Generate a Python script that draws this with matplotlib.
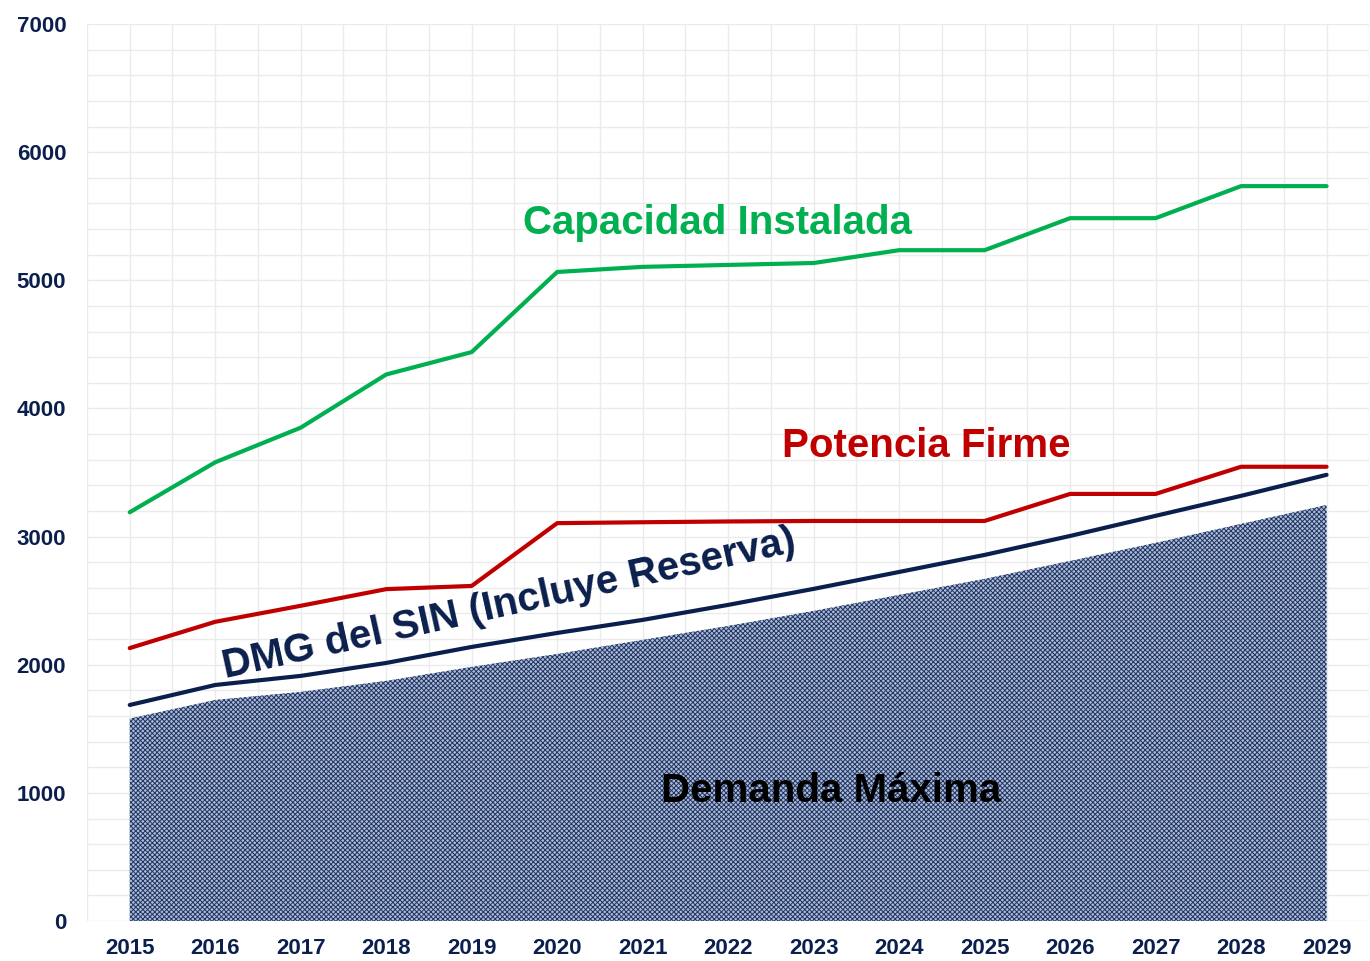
import matplotlib
matplotlib.use('Agg')
import matplotlib.pyplot as plt
import numpy as np

# Datos (MW)
anios = [2015, 2016, 2017, 2018, 2019, 2020, 2021, 2022, 2023, 2024, 2025, 2026, 2027, 2028, 2029]
capacidad_instalada = [3190, 3580, 3850, 4265, 4440, 5065, 5105, 5120, 5135, 5235, 5235, 5485, 5485, 5735, 5735]
potencia_firme = [2130, 2335, 2460, 2590, 2615, 3105, 3112, 3118, 3122, 3122, 3122, 3333, 3333, 3545, 3545]
dmg_sin = [1686, 1842, 1913, 2014, 2139, 2248, 2350, 2467, 2592, 2724, 2857, 3005, 3162, 3318, 3482]
demanda_maxima = [1580, 1725, 1788, 1874, 1983, 2084, 2194, 2303, 2420, 2545, 2670, 2810, 2951, 3099, 3247]
y_ticks = [0, 1000, 2000, 3000, 4000, 5000, 6000, 7000]

verde = '#00b050'
rojo = '#c00000'
azul = '#0b1f4d'

plt.rcParams['font.family'] = ['Liberation Sans', 'DejaVu Sans']
plt.rcParams['hatch.linewidth'] = 0.7
plt.rcParams['hatch.color'] = '#1f3563'

fig = plt.figure(figsize=(13.7, 9.61), dpi=100, facecolor='white')
ax = fig.add_axes([0.0635, 0.0416, 0.936, 0.9334])

# Área de demanda máxima con trama
ax.fill_between(anios, 0, demanda_maxima, facecolor='#aebbd6', hatch='x' * 7,
                edgecolor='#1f3563', linewidth=0, zorder=2)

ax.plot(anios, capacidad_instalada, color=verde, lw=3, zorder=3, solid_capstyle='round')
ax.plot(anios, potencia_firme, color=rojo, lw=3, zorder=3, solid_capstyle='round')
ax.plot(anios, dmg_sin, color=azul, lw=3, zorder=3, solid_capstyle='round')

# Etiquetas en el gráfico
ax.text(2021.87, 5450, 'Capacidad Instalada', color=verde, fontsize=29, fontweight='bold',
        ha='center', va='center', zorder=4)
ax.text(2024.32, 3710, 'Potencia Firme', color=rojo, fontsize=29, fontweight='bold',
        ha='center', va='center', zorder=4)
ax.text(2023.2, 1015, 'Demanda Máxima', color='black', fontsize=29, fontweight='bold',
        ha='center', va='center', zorder=4)
ax.text(2019.44, 2470, 'DMG del SIN (Incluye Reserva)', color=azul, fontsize=29,
        fontweight='bold', ha='center', va='center', rotation=12.5,
        rotation_mode='anchor', zorder=4)

ax.set_xlim(2014.5, 2029.5)
ax.set_ylim(0, 7000)
ax.set_xticks(anios)
ax.set_yticks(y_ticks)
ax.set_xticks(np.arange(2014.5, 2029.6, 0.5), minor=True)
ax.set_yticks(np.arange(0, 7001, 200), minor=True)
ax.grid(True, which='both', color='#ebebeb', lw=1, zorder=0)
ax.set_axisbelow(True)

for s in ax.spines.values():
    s.set_visible(False)
ax.tick_params(which='both', length=0)
ax.tick_params(axis='x', pad=12, labelsize=16, labelcolor=azul)
ax.tick_params(axis='y', pad=15, labelsize=16, labelcolor=azul)
for lbl in ax.get_xticklabels() + ax.get_yticklabels():
    lbl.set_fontweight('bold')

plt.savefig('out.png', dpi=100, facecolor='white')
